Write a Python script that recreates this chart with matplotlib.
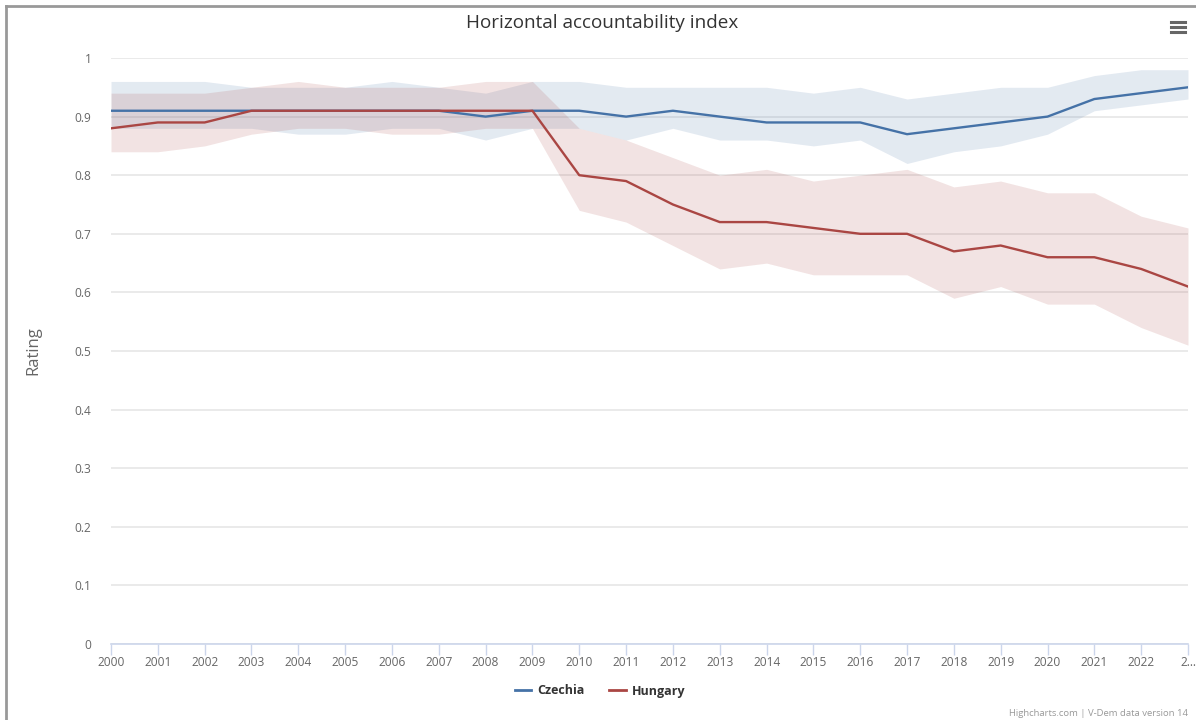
import matplotlib.pyplot as plt
from matplotlib.lines import Line2D

years = list(range(2000, 2024))
tick_labels = [str(y) for y in years[:-1]] + ["2\u2026"]

cz = [0.91, 0.91, 0.91, 0.91, 0.91, 0.91, 0.91, 0.91, 0.90, 0.91, 0.91, 0.90,
      0.91, 0.90, 0.89, 0.89, 0.89, 0.87, 0.88, 0.89, 0.90, 0.93, 0.94, 0.95]
cz_hi = [0.96, 0.96, 0.96, 0.95, 0.95, 0.95, 0.96, 0.95, 0.94, 0.96, 0.96, 0.95,
         0.95, 0.95, 0.95, 0.94, 0.95, 0.93, 0.94, 0.95, 0.95, 0.97, 0.98, 0.98]
cz_lo = [0.88, 0.88, 0.88, 0.88, 0.87, 0.87, 0.88, 0.88, 0.86, 0.88, 0.88, 0.86,
         0.88, 0.86, 0.86, 0.85, 0.86, 0.82, 0.84, 0.85, 0.87, 0.91, 0.92, 0.93]

hu = [0.88, 0.89, 0.89, 0.91, 0.91, 0.91, 0.91, 0.91, 0.91, 0.91, 0.80, 0.79,
      0.75, 0.72, 0.72, 0.71, 0.70, 0.70, 0.67, 0.68, 0.66, 0.66, 0.64, 0.61]
hu_hi = [0.94, 0.94, 0.94, 0.95, 0.96, 0.95, 0.95, 0.95, 0.96, 0.96, 0.88, 0.86,
         0.83, 0.80, 0.81, 0.79, 0.80, 0.81, 0.78, 0.79, 0.77, 0.77, 0.73, 0.71]
hu_lo = [0.84, 0.84, 0.85, 0.87, 0.88, 0.88, 0.87, 0.87, 0.88, 0.88, 0.74, 0.72,
         0.68, 0.64, 0.65, 0.63, 0.63, 0.63, 0.59, 0.61, 0.58, 0.58, 0.54, 0.51]

blue = "#4572a7"
red = "#aa4643"

plt.rcParams['font.family'] = ['Open Sans', 'DejaVu Sans']

fig = plt.figure(figsize=(11.96, 7.2), dpi=100)
ax = fig.add_axes([111 / 1196, 76 / 720, 1077 / 1196, 586 / 720])

ax.fill_between(years, cz_lo, cz_hi, color=blue, alpha=0.15, lw=0, zorder=2)
ax.fill_between(years, hu_lo, hu_hi, color=red, alpha=0.15, lw=0, zorder=2)
ax.plot(years, cz, color=blue, lw=1.7, zorder=3)
ax.plot(years, hu, color=red, lw=1.7, zorder=3)

ax.set_xlim(2000, 2023)
ax.set_ylim(0, 1)
ax.set_yticks([i / 10 for i in range(11)])
ax.set_yticklabels(["0"] + ["0.%d" % i for i in range(1, 10)] + ["1"])
ax.set_xticks(years)
ax.set_xticklabels(tick_labels)
ax.grid(axis='y', color='#e6e6e6', lw=1.2, zorder=0)
ax.set_axisbelow(True)
for s in ['top', 'right', 'left']:
    ax.spines[s].set_visible(False)
ax.spines['bottom'].set_color('#ccd6eb')
ax.spines['bottom'].set_linewidth(1.2)
ax.tick_params(axis='x', colors='#ccd6eb', labelcolor='#666666', labelsize=8.6, length=8, width=1, pad=1)
ax.tick_params(axis='y', length=0, labelcolor='#666666', labelsize=8.6, pad=14)
ax.set_ylabel("Rating", color='#666666', fontsize=12, labelpad=24)

fig.text(602 / 1196, 1 - 23 / 720, "Horizontal accountability index", ha='center', va='center',
         fontsize=13.6, color='#333333')

# legend
handles = [Line2D([], [], color=blue, lw=2), Line2D([], [], color=red, lw=2)]
leg = fig.legend(handles, ["Czechia", "Hungary"], loc='center', bbox_to_anchor=(600 / 1196, 1 - 691 / 720),
                 ncol=2, frameon=False, handlelength=1.3, columnspacing=2.0, handletextpad=0.5,
                 prop={'weight': 'bold', 'size': 9})
for t in leg.get_texts():
    t.set_color('#333333')

fig.text(1188 / 1196, 1 - 713 / 720, "Highcharts.com | V-Dem data version 14", ha='right', va='center',
         fontsize=6.8, color='#999999')

# hamburger icon
for yy in [22, 27, 32]:
    fig.add_artist(Line2D([1171 / 1196, 1185 / 1196], [1 - yy / 720] * 2, color='#666666', lw=2.2))

# frame around the chart
fig.add_artist(Line2D([5.5 / 1196, 5.5 / 1196], [0, 1 - 5.5 / 720], color='#999999', lw=2))
fig.add_artist(Line2D([5.5 / 1196, 1], [1 - 5.5 / 720] * 2, color='#999999', lw=2))

fig.savefig("out.png", dpi=100)
